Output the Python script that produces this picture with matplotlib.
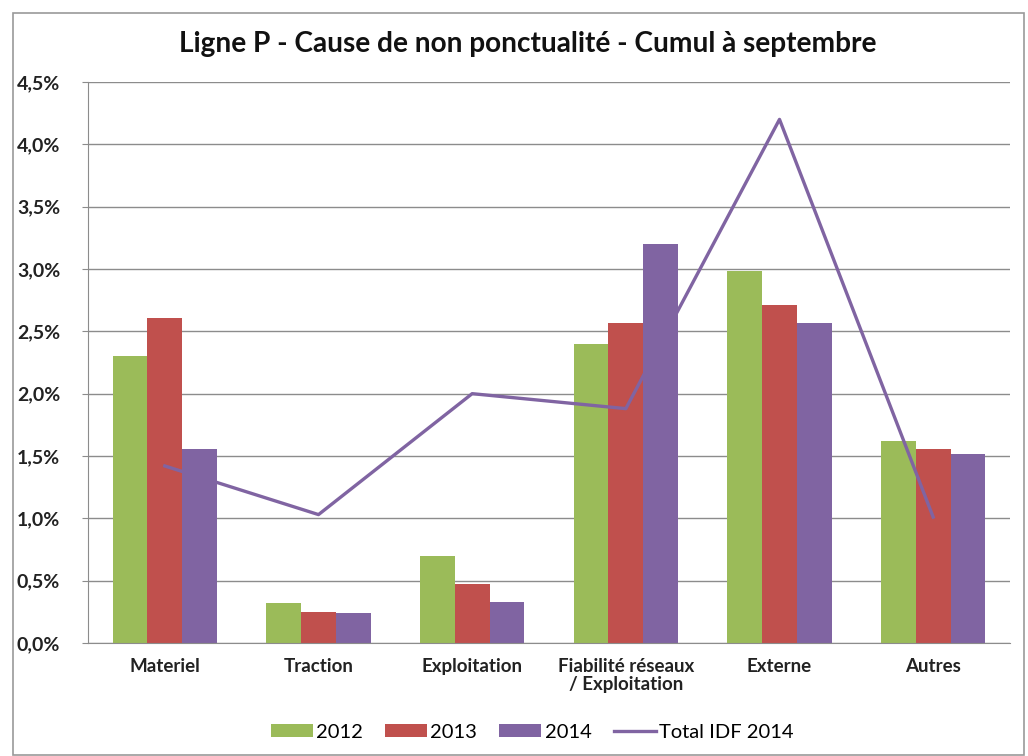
import matplotlib
matplotlib.use("Agg")
import matplotlib.pyplot as plt
from matplotlib.patches import Rectangle
from matplotlib.ticker import FuncFormatter, MultipleLocator
import numpy as np

categories = ["Materiel", "Traction", "Exploitation", "Fiabilité réseaux\n/ Exploitation", "Externe", "Autres"]
v2012 = [2.30, 0.32, 0.70, 2.40, 2.98, 1.62]
v2013 = [2.61, 0.25, 0.47, 2.57, 2.71, 1.56]
v2014 = [1.56, 0.24, 0.33, 3.20, 2.57, 1.52]
total_idf_2014 = [1.42, 1.03, 2.00, 1.88, 4.20, 1.01]
series_labels = ["2012", "2013", "2014", "Total IDF 2014"]
title = "Ligne P - Cause de non ponctualité - Cumul à septembre"

c_green = "#9BBB59"
c_red = "#C0504D"
c_purple = "#8064A2"

plt.rcParams['font.family'] = ['Lato', 'DejaVu Sans']

W, H = 1028, 756
fig = plt.figure(figsize=(W / 100, H / 100), dpi=100)
ax = fig.add_axes([88 / W, 1 - 643 / H, (1010 - 88) / W, (643 - 82) / H])

x = np.arange(len(categories))
bw = 0.227
b1 = ax.bar(x - bw, v2012, bw, color=c_green, zorder=2, label=series_labels[0])
b2 = ax.bar(x, v2013, bw, color=c_red, zorder=2, label=series_labels[1])
b3 = ax.bar(x + bw, v2014, bw, color=c_purple, zorder=2, label=series_labels[2])
ln, = ax.plot(x, total_idf_2014, color=c_purple, lw=2.4, zorder=3, label=series_labels[3])

ax.set_xlim(-0.5, len(categories) - 0.5)
ax.set_ylim(0, 4.5)
ax.yaxis.set_major_locator(MultipleLocator(0.5))
ax.yaxis.set_major_formatter(FuncFormatter(lambda v, p: f"{v:.1f}%".replace(".", ",")))
ax.grid(axis='y', color='#8c8c8c', lw=1, zorder=0)
ax.set_axisbelow(True)
for s in ['top', 'right']:
    ax.spines[s].set_visible(False)
for s in ['left', 'bottom']:
    ax.spines[s].set_color('#8c8c8c')
ax.set_xticks(x)
ax.set_xticklabels(categories, fontsize=13.5, fontweight='bold', color='#222222', linespacing=1.05)
ax.tick_params(axis='x', length=0, pad=11)
ax.tick_params(axis='y', length=4, color='#8c8c8c', labelsize=14, pad=16, labelcolor='#222222')
for lbl in ax.get_yticklabels():
    lbl.set_fontweight('bold')

fig.text(528 / W, 1 - 44 / H, title, ha='center', va='center', fontsize=20.2, fontweight='bold', color='#111111')

leg = fig.legend([b1, b2, b3, ln], series_labels, loc='center',
                 bbox_to_anchor=(532 / W, 1 - 732 / H), ncol=4, frameon=False,
                 prop={'size': 14.5}, handlelength=2.1, handleheight=0.6,
                 columnspacing=1.1, handletextpad=0.15)

fig.patches.append(Rectangle((13 / W, 1 / H), (1024 - 13) / W, (755 - 13) / H,
                             transform=fig.transFigure, fill=False, ec='#999999', lw=1.2))
fig.savefig("out.png", dpi=100, facecolor='white')
